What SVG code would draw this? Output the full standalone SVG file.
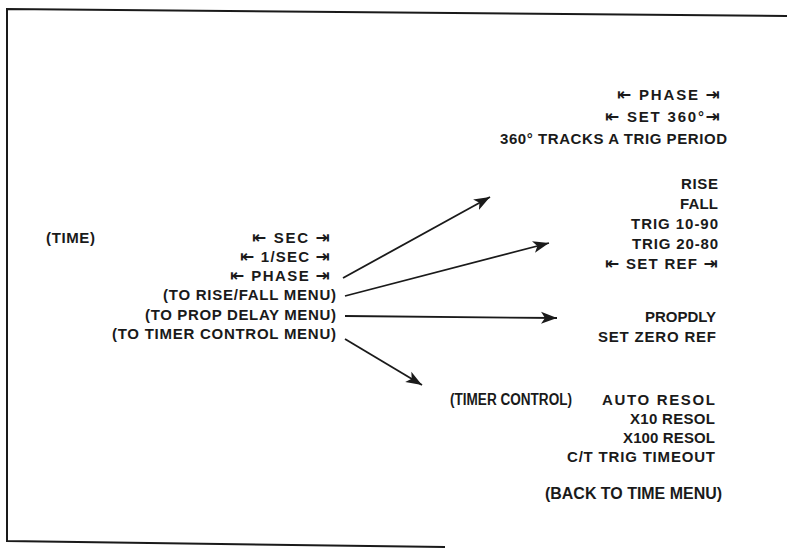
<svg xmlns="http://www.w3.org/2000/svg" width="787" height="551" viewBox="0 0 787 551">
<defs>
<style>
text{font-family:"Liberation Sans","DejaVu Sans",Arial,sans-serif;font-weight:bold;font-size:15px;fill:#1a1a1a}
.n{font-size:16px}
.a{font-family:"DejaVu Sans",sans-serif;font-size:17px}
.c{stroke:#1a1a1a;stroke-width:1.8;fill:none}
.frame{stroke:#1a1a1a;stroke-width:2;fill:none}
</style>
<marker id="ah" markerUnits="userSpaceOnUse" markerWidth="18" markerHeight="14" refX="16" refY="7" orient="auto">
<path d="M0,1 L16,7 L0,13 L4,7 Z" fill="#1a1a1a"/>
</marker>
</defs>
<rect width="787" height="551" fill="#fff"/>
<path class="frame" d="M787,16 L7,9 L7,541 L445,547"/>

<g id="time-menu">
<text x="46" y="243" textLength="49" lengthAdjust="spacing">(TIME)</text>
<text x="252" y="243" textLength="78" lengthAdjust="spacing"><tspan class="a">⇤</tspan> SEC <tspan class="a">⇥</tspan></text>
<text x="240" y="262" textLength="90" lengthAdjust="spacing"><tspan class="a">⇤</tspan> 1/SEC <tspan class="a">⇥</tspan></text>
<text x="230" y="281" textLength="100" lengthAdjust="spacing"><tspan class="a">⇤</tspan> PHASE <tspan class="a">⇥</tspan></text>
<text x="163" y="300" textLength="173" lengthAdjust="spacing">(TO RISE/FALL MENU)</text>
<text x="145" y="320" textLength="191" lengthAdjust="spacing">(TO PROP DELAY MENU)</text>
<text x="112" y="339" textLength="224" lengthAdjust="spacing">(TO TIMER CONTROL MENU)</text>
</g>

<g id="phase-menu">
<text x="617" y="100" textLength="103" lengthAdjust="spacing"><tspan class="a">⇤</tspan> PHASE <tspan class="a">⇥</tspan></text>
<text x="605" y="122" textLength="115" lengthAdjust="spacing"><tspan class="a">⇤</tspan> SET 360°<tspan class="a">⇥</tspan></text>
<text x="500" y="144" textLength="227" lengthAdjust="spacing">360°  TRACKS A TRIG PERIOD</text>
</g>

<g id="rise-fall-menu">
<text x="681" y="189" textLength="37" lengthAdjust="spacing">RISE</text>
<text x="680" y="209" textLength="38" lengthAdjust="spacing">FALL</text>
<text x="631" y="229" textLength="87" lengthAdjust="spacing">TRIG 10-90</text>
<text x="632" y="249" textLength="86" lengthAdjust="spacing">TRIG 20-80</text>
<text x="605" y="269" textLength="113" lengthAdjust="spacing"><tspan class="a">⇤</tspan> SET REF <tspan class="a">⇥</tspan></text>
</g>

<g id="prop-delay-menu">
<text x="645" y="322" textLength="71" lengthAdjust="spacing">PROPDLY</text>
<text x="598" y="342" textLength="118" lengthAdjust="spacing">SET ZERO REF</text>
</g>

<g id="timer-control-menu">
<text class="n" x="450" y="405" textLength="122" lengthAdjust="spacingAndGlyphs">(TIMER CONTROL)</text>
<text x="602" y="405" textLength="113" lengthAdjust="spacing">AUTO RESOL</text>
<text x="630" y="424" textLength="85" lengthAdjust="spacing">X10 RESOL</text>
<text x="623" y="443" textLength="92" lengthAdjust="spacing">X100 RESOL</text>
<text x="567" y="462" textLength="148" lengthAdjust="spacing">C/T TRIG TIMEOUT</text>
<text class="n" x="545" y="499" textLength="177" lengthAdjust="spacingAndGlyphs">(BACK TO TIME MENU)</text>
</g>

<g id="connectors">
<line class="c" x1="343" y1="278" x2="490" y2="197" marker-end="url(#ah)"/>
<line class="c" x1="345" y1="296" x2="549" y2="243" marker-end="url(#ah)"/>
<line class="c" x1="345" y1="316" x2="557" y2="318" marker-end="url(#ah)"/>
<line class="c" x1="345" y1="339" x2="422" y2="385" marker-end="url(#ah)"/>
</g>
</svg>
